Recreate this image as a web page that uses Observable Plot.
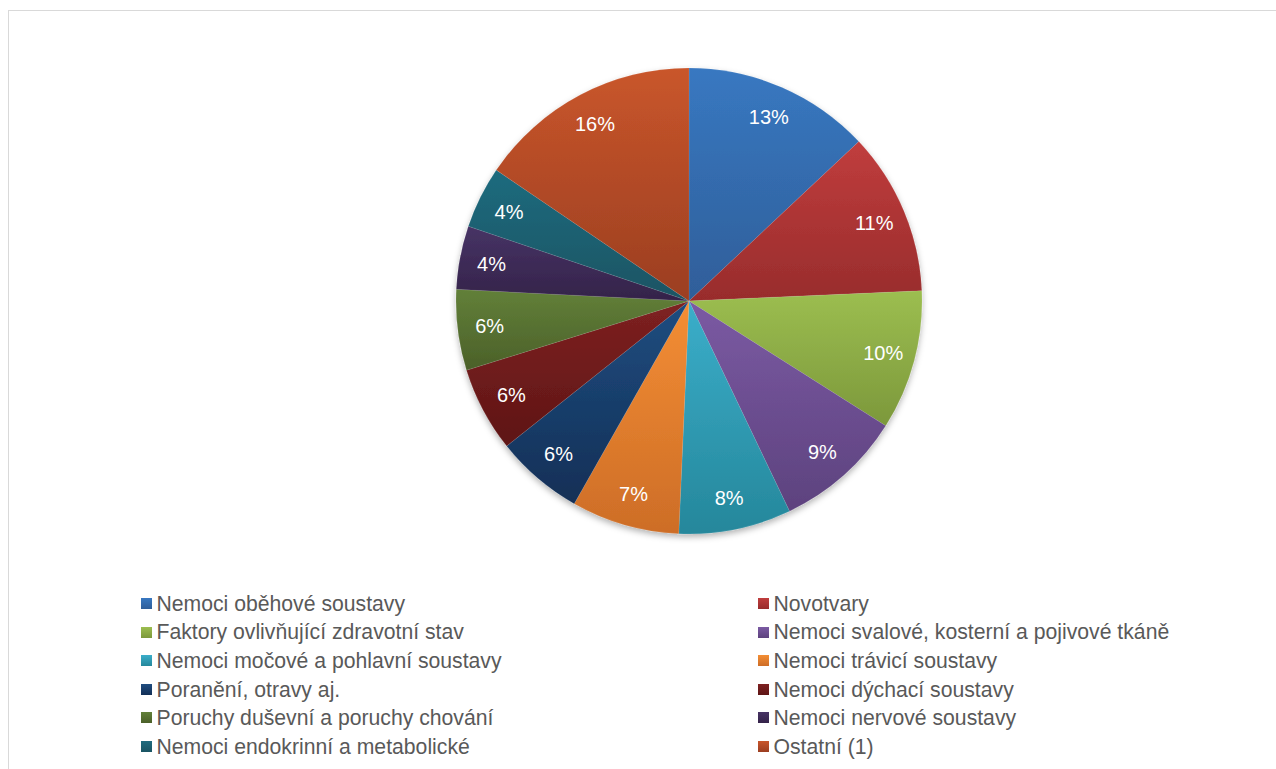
<!DOCTYPE html>
<html>
<head>
<meta charset="utf-8">
<script src="https://cdn.jsdelivr.net/npm/d3@7"></script>
<script src="https://cdn.jsdelivr.net/npm/@observablehq/plot@0.6"></script>
<style>
  html, body { margin: 0; padding: 0; background: #fff; }
  body { width: 1276px; height: 769px; position: relative; overflow: hidden; font-family: "Liberation Sans", Arial, sans-serif; }
  #frame { position: absolute; left: 8px; top: 10px; width: 1400px; height: 900px; border-left: 1px solid #d9d9d9; border-top: 1px solid #d9d9d9; }
  #chart { position: absolute; left: 0; top: 0; }
  #legend { position: absolute; left: 0; top: 0; width: 1276px; height: 769px; pointer-events: none; }
  .item { position: absolute; display: flex; align-items: center; font-size: 21.2px; color: #595959; white-space: nowrap; line-height: 1; }
  .sw { width: 11px; height: 11px; margin-right: 5px; }
</style>
</head>
<body>
<div id="frame"></div>
<div id="chart"></div>
<div id="legend"></div>
<script>
// ---- data ----
const categories = [
  "Nemoci oběhové soustavy",
  "Novotvary",
  "Faktory ovlivňující zdravotní stav",
  "Nemoci svalové, kosterní a pojivové tkáně",
  "Nemoci močové a pohlavní soustavy",
  "Nemoci trávicí soustavy",
  "Poranění, otravy aj.",
  "Nemoci dýchací soustavy",
  "Poruchy duševní a poruchy chování",
  "Nemoci nervové soustavy",
  "Nemoci endokrinní a metabolické",
  "Ostatní (1)"
];
const shares = [13.0, 11.3, 9.7, 8.9, 7.8, 7.5, 6.1, 5.9, 5.6, 4.4, 4.3, 15.5];
const labels = ["13%", "11%", "10%", "9%", "8%", "7%", "6%", "6%", "6%", "4%", "4%", "16%"];
const topColors = ["#3878c1", "#c03d3d", "#9cbe50", "#7b5aa3", "#3baeca", "#f48e34", "#1f4d80", "#7e2121", "#628039", "#473365", "#1f6b7e", "#c9562b"];
const bottomColors = ["#2f5e99", "#982c2c", "#7c983b", "#5d427e", "#25879b", "#cd6d27", "#122f56", "#5e1515", "#4b6029", "#342349", "#1a5463", "#9b3e21"];

const W = 1276, H = 769;
const cx = 689, cy = 301, R = 233, labelR = 201;

const table = categories.map((c, i) => ({category: c, share: shares[i], label: labels[i]}));

const color = Plot.scale({color: {type: "ordinal", domain: categories, range: topColors}});
const colorDark = Plot.scale({color: {type: "ordinal", domain: categories, range: bottomColors}});

function pieMark(index, scales, values, dimensions) {
  const g = d3.create("svg:g");
  const defs = g.append("defs");
  const f = defs.append("filter").attr("id", "shadow").attr("x", "-10%").attr("y", "-10%").attr("width", "120%").attr("height", "125%");
  f.append("feDropShadow").attr("dx", 0).attr("dy", 3).attr("stdDeviation", 3).attr("flood-color", "#000").attr("flood-opacity", 0.3);
  table.forEach((d, i) => {
    const lg = defs.append("linearGradient").attr("id", "grad" + i)
      .attr("x1", 0).attr("y1", 0).attr("x2", 0).attr("y2", 1);
    lg.append("stop").attr("offset", "0%").attr("stop-color", color.apply(d.category));
    lg.append("stop").attr("offset", "100%").attr("stop-color", colorDark.apply(d.category));
  });
  const pie = d3.pie().sort(null).value(d => d.share)(table);
  const arc = d3.arc().innerRadius(0).outerRadius(R);
  const labelArc = d3.arc().innerRadius(labelR).outerRadius(labelR);
  const root = g.append("g").attr("transform", `translate(${cx},${cy})`);
  const slices = root.append("g").attr("filter", "url(#shadow)");
  slices.selectAll("path").data(pie).join("path")
    .attr("d", arc)
    .attr("fill", (d, i) => `url(#grad${i})`)
    .attr("stroke", "rgba(255,255,255,0.15)")
    .attr("stroke-width", 0.6);
  root.append("g").selectAll("text").data(pie).join("text")
    .attr("transform", d => `translate(${labelArc.centroid(d)})`)
    .attr("text-anchor", "middle")
    .attr("dy", "0.36em")
    .attr("fill", "#fff")
    .attr("font-family", "'Liberation Sans', Arial, sans-serif")
    .attr("font-size", 20)
    .text(d => d.data.label);
  return g.node();
}

const chart = Plot.plot({
  width: W,
  height: H,
  margin: 0,
  style: {background: "transparent", overflow: "visible"},
  marks: [pieMark]
});
document.getElementById("chart").appendChild(chart);

// ---- legend (HTML) ----
const legend = document.getElementById("legend");
const colX = [140.5, 757.5];
const rowY0 = 603.5, rowStep = 28.6;
categories.forEach((c, i) => {
  const col = i % 2, row = Math.floor(i / 2);
  const item = document.createElement("div");
  item.className = "item";
  item.style.left = colX[col] + "px";
  item.style.top = (rowY0 + row * rowStep - 11) + "px";
  item.style.height = "22px";
  const sw = document.createElement("div");
  sw.className = "sw";
  sw.style.background = `linear-gradient(${color.apply(c)}, ${colorDark.apply(c)})`;
  const t = document.createElement("span");
  t.textContent = c;
  item.appendChild(sw);
  item.appendChild(t);
  legend.appendChild(item);
});
</script>
</body>
</html>
